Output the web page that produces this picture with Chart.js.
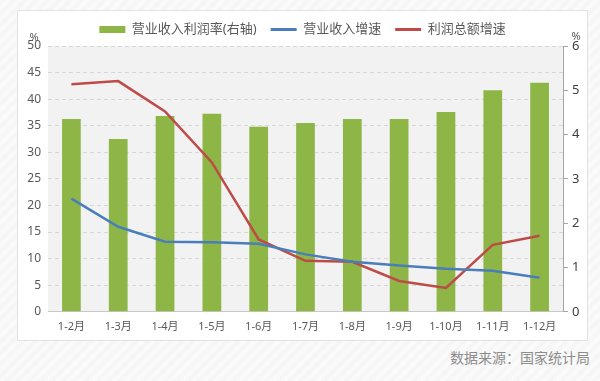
<!DOCTYPE html>
<html>
<head>
<meta charset="utf-8">
<script src="https://cdn.jsdelivr.net/npm/chart.js@4"></script>
<style>
  html, body { margin: 0; padding: 0; }
  body {
    width: 600px; height: 381px; overflow: hidden; position: relative;
    background: repeating-linear-gradient(135deg, #f6f6f6 0px, #f6f6f6 4px, #fafafa 4px, #fafafa 8px);
  }
  #card {
    position: absolute; left: 17px; top: 10px; width: 571px; height: 331px;
    background: #fff; border: 1px solid #e2e2e2; box-sizing: border-box;
  }
  #source {
    position: absolute; right: 10px; top: 347px;
    font: 14px "Noto Sans CJK SC", sans-serif; color: #8c8c8c;
  }
</style>
</head>
<body>
<div id="card"><canvas id="chart" width="569" height="329"></canvas></div>
<div id="source">数据来源：国家统计局</div>
<script>
// Data
const categories = ['1-2月', '1-3月', '1-4月', '1-5月', '1-6月', '1-7月', '1-8月', '1-9月', '1-10月', '1-11月', '1-12月'];
const profitMargin = [4.35, 3.9, 4.42, 4.47, 4.18, 4.26, 4.35, 4.35, 4.51, 5.0, 5.17];   // right axis
const revenueGrowth = [21.3, 16.0, 13.2, 13.1, 12.8, 10.8, 9.4, 8.7, 8.1, 7.7, 6.4];   // left axis
const profitGrowth = [42.8, 43.4, 37.7, 28.1, 13.6, 9.6, 9.4, 5.8, 4.5, 12.6, 14.3];   // left axis
const leftTicks = [0, 5, 10, 15, 20, 25, 30, 35, 40, 45, 50];
const rightTicks = [0, 1, 2, 3, 4, 5, 6];

const fontFamily = '"Noto Sans", "Noto Sans CJK SC", sans-serif';
const textColor = '#595959';

// grey plot background + the two "%" unit labels
const plotDecor = {
  id: 'plotDecor',
  beforeDraw(chart) {
    const { ctx, chartArea: a } = chart;
    ctx.save();
    ctx.fillStyle = '#f2f2f2';
    ctx.fillRect(a.left, a.top, a.right - a.left, a.bottom - a.top);
    ctx.restore();
  },
  afterDraw(chart) {
    const { ctx, chartArea: a } = chart;
    ctx.save();
    ctx.fillStyle = textColor;
    ctx.font = '11px ' + fontFamily;
    ctx.textAlign = 'center';
    ctx.fillText('%', a.left - 14, a.top - 8);
    ctx.fillText('%', a.right + 13, a.top - 9);
    ctx.restore();
  }
};

new Chart(document.getElementById('chart'), {
  type: 'bar',
  data: {
    labels: categories,
    datasets: [{
      type: 'bar',
      label: '营业收入利润率(右轴)',
      data: profitMargin,
      yAxisID: 'y2',
      backgroundColor: '#8db646',
      pointStyle: 'rect',
      categoryPercentage: 0.5,
      barPercentage: 0.8,
      order: 1
    }, {
      type: 'line',
      label: '营业收入增速',
      data: revenueGrowth,
      yAxisID: 'y',
      borderColor: '#4a7ebb',
      backgroundColor: '#4a7ebb',
      borderWidth: 2.5,
      pointRadius: 0,
      pointStyle: 'line',
      pointBorderWidth: 3,
      tension: 0,
      order: 0
    }, {
      type: 'line',
      label: '利润总额增速',
      data: profitGrowth,
      yAxisID: 'y',
      borderColor: '#be4b48',
      backgroundColor: '#be4b48',
      borderWidth: 2.5,
      pointRadius: 0,
      pointStyle: 'line',
      pointBorderWidth: 3,
      tension: 0,
      order: 0
    }]
  },
  options: {
    responsive: false,
    animation: false,
    layout: { padding: { top: -2, bottom: -1, left: 0, right: 0 } },
    plugins: {
      tooltip: { enabled: false },
      legend: {
        position: 'top',
        labels: {
          usePointStyle: true,
          pointStyleWidth: 26,
          boxHeight: 7,
          padding: 14,
          color: textColor,
          font: { size: 13, family: fontFamily },
          sort: (a, b) => a.datasetIndex - b.datasetIndex
        }
      }
    },
    scales: {
      x: {
        grid: { display: false, drawTicks: false },
        border: { color: '#c8c8c8' },
        ticks: { color: textColor, font: { size: 11, family: fontFamily }, padding: 8, maxRotation: 0, autoSkip: false }
      },
      y: {
        position: 'left',
        min: 0, max: 50,
        afterBuildTicks: (s) => { s.ticks = leftTicks.map(v => ({ value: v })); },
        afterFit: (s) => { s.width = 30; },
        border: { display: false, dash: [4, 3] },
        grid: { color: '#d6d6d6', drawTicks: false },
        ticks: { color: textColor, font: { size: 12, family: fontFamily }, padding: 7 }
      },
      y2: {
        position: 'right',
        min: 0, max: 6,
        afterBuildTicks: (s) => { s.ticks = rightTicks.map(v => ({ value: v })); },
        afterFit: (s) => { s.width = 24; },
        border: { color: '#a6a6a6' },
        grid: { drawOnChartArea: false, tickLength: 5, color: '#a6a6a6' },
        ticks: { color: '#404040', font: { size: 13, family: fontFamily }, padding: 4 }
      }
    }
  },
  plugins: [plotDecor]
});
</script>
</body>
</html>
